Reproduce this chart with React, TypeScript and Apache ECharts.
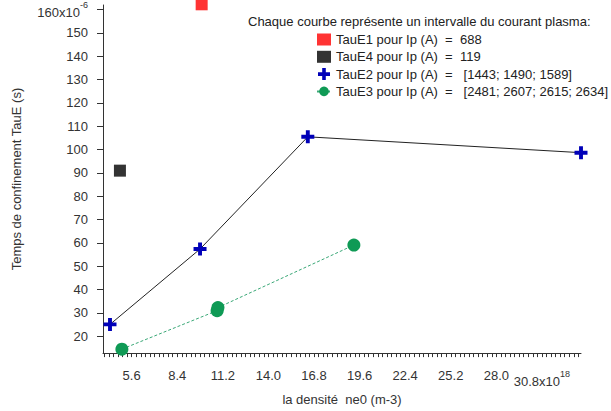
import React, { useEffect, useRef } from "react";
import * as echarts from "echarts";

const xTicks = [5.6, 8.4, 11.2, 14.0, 16.8, 19.6, 22.4, 25.2, 28.0, 30.8];
const yTicks = [20, 30, 40, 50, 60, 70, 80, 90, 100, 110, 120, 130, 140, 150, 160];
const tauE1 = [[9.9, 162.3]];
const tauE4 = [[4.88, 91]];
const tauE2 = [[4.27, 25.1], [9.8, 57.4], [16.42, 105.5], [33.2, 98.7]];
const tauE3 = [[5.0, 14.5], [10.85, 31], [10.9, 32.3], [19.25, 59.1]];
const names = [
  "TauE1 pour Ip (A)  =  688",
  "TauE4 pour Ip (A)  =  119",
  "TauE2 pour Ip (A)  =   [1443; 1490; 1589]",
  "TauE3 pour Ip (A)  =   [2481; 2607; 2615; 2634]",
];
const header = "Chaque courbe représente un intervalle du courant plasma:";

const X_MIN = 3.84;
const X_MAX = 33.2;
const Y_MIN = 12.8;
const Y_MAX = 162;

const minorX: number[] = [];
for (let i = 0; i < 200; i++) {
  const v = Math.round((xTicks[0] - 0.28 * 10 + 0.28 * i) * 100) / 100;
  if (v >= X_MIN && v <= X_MAX) minorX.push(v);
}

const CROSS = "path://M3.5,0H6.5V3.5H10V6.5H6.5V10H3.5V6.5H0V3.5H3.5Z";
const FONT = "Liberation Sans, Arial, sans-serif";

export default function App() {
  const ref = useRef<HTMLDivElement>(null);
  useEffect(() => {
    if (!ref.current) return;
    const chart = echarts.init(ref.current, undefined, { renderer: "svg" });
    const axisColor = "#333";
    chart.setOption({
      animation: false,
      backgroundColor: "#fff",
      textStyle: { fontFamily: FONT },
      grid: { left: 103, right: 30, top: 5, bottom: 55 },
      title: {
        text: header,
        left: 243,
        top: 10,
        textStyle: { fontSize: 13, fontWeight: "normal", color: "#222", fontFamily: FONT },
      },
      legend: {
        orient: "vertical",
        left: 311,
        top: 28,
        itemWidth: 14,
        itemHeight: 12,
        itemGap: 4.3,
        textStyle: { fontSize: 13, color: "#222", fontFamily: FONT, padding: [0, 0, 0, 0] },
        data: [
          { name: names[0], icon: "rect" },
          { name: names[1], icon: "rect" },
          { name: names[2], icon: CROSS },
          { name: names[3] },
        ],
      },
      xAxis: {
        type: "value",
        min: X_MIN,
        max: X_MAX,
        position: "bottom",
        name: "la densité  ne0 (m-3)",
        nameLocation: "middle",
        nameGap: 33,
        nameTextStyle: { fontSize: 13, color: "#333", fontFamily: FONT },
        splitLine: { show: false },
        axisLine: { show: true, lineStyle: { color: axisColor, width: 1 } },
        axisTick: { show: true, length: 4, customValues: minorX, lineStyle: { color: axisColor } },
        axisLabel: {
          customValues: xTicks,
          margin: 16,
          fontSize: 13,
          color: "#333",
          fontFamily: FONT,
          formatter: (v: number) => {
            const s = v.toFixed(1);
            return v > 30 ? "{b|" + s + "x10}{s|18}" : s;
          },
          rich: {
            b: { fontSize: 13, color: "#333", fontFamily: FONT, padding: [6, 0, 0, 0] },
            s: { fontSize: 9, color: "#333", fontFamily: FONT, verticalAlign: "top", padding: [0, 0, 0, 0] },
          },
        },
      },
      yAxis: {
        type: "value",
        min: Y_MIN,
        max: Y_MAX,
        name: "Temps de confinement TauE (s)",
        nameLocation: "middle",
        nameGap: 80,
        nameTextStyle: { fontSize: 13, color: "#333", fontFamily: FONT },
        splitLine: { show: false },
        axisLine: { show: true, lineStyle: { color: axisColor, width: 1 } },
        axisTick: { show: true, length: 6, customValues: yTicks, lineStyle: { color: axisColor } },
        axisLabel: {
          customValues: yTicks,
          margin: 15,
          fontSize: 13,
          color: "#333",
          fontFamily: FONT,
          formatter: (v: number) => (v === 160 ? "{b|160x10}{s|-6}" : String(v)),
          rich: {
            b: { fontSize: 13, color: "#333", fontFamily: FONT, padding: [6, 0, 0, 0] },
            s: { fontSize: 9, color: "#333", fontFamily: FONT, verticalAlign: "top" },
          },
        },
      },
      series: [
        {
          name: names[0],
          type: "scatter",
          data: tauE1,
          symbol: "rect",
          symbolSize: 12,
          itemStyle: { color: "#ff0000" },
          clip: false,
        },
        {
          name: names[1],
          type: "scatter",
          data: tauE4,
          symbol: "rect",
          symbolSize: 12,
          itemStyle: { color: "#000000" },
          clip: false,
        },
        {
          name: names[2],
          type: "line",
          data: tauE2,
          symbol: CROSS,
          symbolSize: 13,
          itemStyle: { color: "#0000b8" },
          lineStyle: { color: "#222", width: 1 },
          clip: false,
          z: 3,
        },
        {
          name: names[3],
          type: "line",
          data: tauE3,
          symbol: "circle",
          symbolSize: 13,
          itemStyle: { color: "#0f9a55" },
          lineStyle: { color: "#3aa877", width: 1, type: [3, 2] },
          clip: false,
          z: 3,
        },
      ],
    });
    return () => chart.dispose();
  }, []);
  return (
    <div
      ref={ref}
      style={{ position: "absolute", left: 0, top: 0, width: 611, height: 411 }}
    />
  );
}
